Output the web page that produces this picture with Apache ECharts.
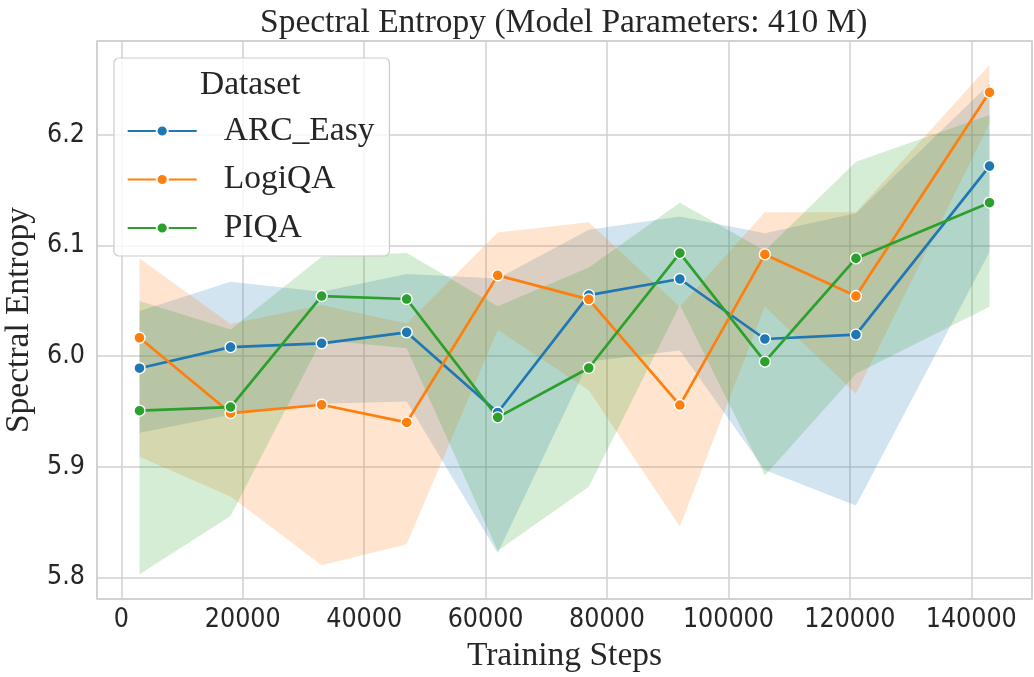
<!DOCTYPE html>
<html><head><meta charset="utf-8">
<script src="https://cdn.jsdelivr.net/npm/echarts@6/dist/echarts.min.js"></script>
<style>html,body{margin:0;padding:0;background:#fff}#c{width:1034px;height:677px}</style>
</head><body><div id="c"></div>
<script>
// ---- data ----
const steps = [3000, 18000, 33000, 47000, 62000, 77000, 92000, 106000, 121000, 143000];
const datasetNames = ['ARC_Easy', 'LogiQA', 'PIQA'];
const arcEasy     = [5.989, 6.008, 6.0115, 6.0214, 5.949, 6.055, 6.0696, 6.0154, 6.0193, 6.1716];
const arcEasyLow  = [5.9307, 5.947, 5.957, 5.959, 5.822, 5.995, 6.005, 5.897, 5.865, 6.094];
const arcEasyHigh = [6.0407, 6.067, 6.058, 6.074, 6.07, 6.114, 6.126, 6.111, 6.129, 6.246];
const logiQA      = [6.0165, 5.9485, 5.956, 5.940, 6.0729, 6.0512, 5.9557, 6.0918, 6.0542, 6.2382];
const logiQALow   = [5.909, 5.873, 5.811, 5.830, 6.0235, 5.969, 5.846, 6.0446, 5.966, 6.21];
const logiQAHigh  = [6.088, 6.029, 6.046, 6.0295, 6.1117, 6.1208, 6.0446, 6.13, 6.13, 6.263];
const piqa        = [5.9506, 5.9539, 6.0542, 6.0515, 5.9446, 5.9892, 6.093, 5.9949, 6.0882, 6.1385];
const piqaLow     = [5.8028, 5.8555, 6.0145, 6.007, 5.824, 5.882, 6.046, 5.892, 5.984, 6.0446];
const piqaHigh    = [6.0497, 6.024, 6.0897, 6.093, 6.045, 6.080, 6.1385, 6.095, 6.1755, 6.2177];
const colors = ['#1f77b4', '#ff7f0e', '#2ca02c'];

const SERIF = '"Liberation Serif","Times New Roman",serif';
const SANS = '"DejaVu Sans Condensed","Liberation Sans Narrow","Arial Narrow","Liberation Sans",sans-serif';
const INK = '#262626';

const groups = [
  {mean: arcEasy, lo: arcEasyLow, hi: arcEasyHigh},
  {mean: logiQA, lo: logiQALow, hi: logiQAHigh},
  {mean: piqa, lo: piqaLow, hi: piqaHigh}
];

const series = [];
groups.forEach((g, i) => {
  series.push({
    name: datasetNames[i] + ' band', type: 'custom', silent: true, z: 1, clip: true,
    data: steps.map((x, j) => [x, g.lo[j], g.hi[j]]),
    encode: {x: 0, y: [1, 2]},
    renderItem: function (params, api) {
      if (params.dataIndex !== 0) return null;
      const pts = [];
      for (let j = 0; j < steps.length; j++) pts.push(api.coord([steps[j], g.hi[j]]));
      for (let j = steps.length - 1; j >= 0; j--) pts.push(api.coord([steps[j], g.lo[j]]));
      return {
        type: 'polygon', shape: {points: pts},
        style: {fill: colors[i], opacity: 0.2, stroke: 'none'}
      };
    }
  });
});
groups.forEach((g, i) => {
  series.push({
    name: datasetNames[i], type: 'line',
    data: steps.map((x, j) => [x, g.mean[j]]),
    symbol: 'circle', symbolSize: 11, showSymbol: true, color: colors[i],
    lineStyle: {width: 2.7, color: colors[i]},
    itemStyle: {color: colors[i], borderColor: '#ffffff', borderWidth: 1.4},
    z: 3
  });
});

const chart = echarts.init(document.getElementById('c'), null, {renderer: 'canvas'});
chart.setOption({
  animation: false,
  backgroundColor: '#ffffff',
  title: [
    {text: 'Spectral Entropy (Model Parameters: 410 M)', left: 260, top: 6, padding: 0,
     textStyle: {fontFamily: SERIF, fontSize: 33.5, fontWeight: 'normal', color: INK}},
    {text: 'Dataset', left: 200, top: 68, padding: 0, z: 10,
     textStyle: {fontFamily: SERIF, fontSize: 33.5, fontWeight: 'normal', color: INK}}
  ],
  legend: {
    data: datasetNames, orient: 'vertical', left: 114, top: 58,
    padding: [56, 15, 11, 12.7],
    itemWidth: 69, itemHeight: 14, itemGap: 14.5,
    backgroundColor: 'rgba(255,255,255,0.8)', borderColor: '#cccccc', borderWidth: 1.2, borderRadius: 5,
    textStyle: {fontFamily: SERIF, fontSize: 33.5, color: INK, rich: {g: {width: 22}}},
    formatter: n => '{g|}' + n,
    selectedMode: false
  },
  grid: {left: 97, right: 2, top: 41, bottom: 78, show: true, borderColor: '#cccccc', borderWidth: 1.5,
         containLabel: false, outerBoundsMode: 'none'},
  xAxis: {
    type: 'value', min: -4000, max: 150000, splitNumber: 8,
    axisLine: {show: false}, axisTick: {show: false},
    axisLabel: {showMinLabel: false, showMaxLabel: false, fontFamily: SANS, fontSize: 26.5, color: INK, margin: 8,
                formatter: v => String(v)},
    splitLine: {show: true, lineStyle: {color: '#d0d0d0', width: 1.5}},
    name: 'Training Steps', nameLocation: 'middle', nameGap: 36,
    nameTextStyle: {fontFamily: SERIF, fontSize: 33.5, color: INK}
  },
  yAxis: {
    type: 'value', min: 5.7805, max: 6.2846, splitNumber: 5,
    axisLine: {show: false}, axisTick: {show: false},
    axisLabel: {showMinLabel: false, showMaxLabel: false, fontFamily: SANS, fontSize: 26.5, color: INK, margin: 12,
                formatter: v => v.toFixed(1)},
    splitLine: {show: true, lineStyle: {color: '#d0d0d0', width: 1.5}},
    name: 'Spectral Entropy', nameLocation: 'middle', nameGap: 46, nameRotate: 90,
    nameTextStyle: {fontFamily: SERIF, fontSize: 33.5, color: INK}
  },
  series: series
});
</script>
</body></html>
